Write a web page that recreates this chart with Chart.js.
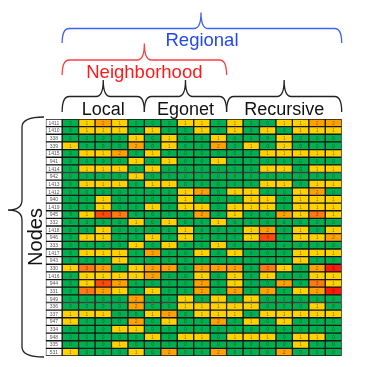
<!DOCTYPE html>
<html>
<head>
<meta charset="utf-8">
<script src="https://cdn.jsdelivr.net/npm/chart.js@4.4.1/dist/chart.umd.min.js"></script>
<style>
    html, body { margin: 0; padding: 0; background: #fff; }
    #chart { display: block; }
</style>
</head>
<body>
<canvas id="chart" width="370" height="367"></canvas>
<script>
// Node ids (rows, top to bottom)
var nodes = ['1411', '1410', '338', '339', '1415', '941', '1414', '942', '1413', '1412',
    '940', '1419', '945', '332', '1418', '946', '333', '1417', '943', '330', '1416',
    '944', '331', '949', '336', '337', '947', '334', '948', '335', '531'];

// Feature groups over the columns (name, number of columns)
var groupNames = ['Local', 'Egonet', 'Recursive'];
var groupSizes = [5, 5, 7];

// Feature counts per node (one row per node, 17 columns)
var counts = [
    [0, 1, 2, 1, 0, 0, 0, 1, 1, 0, 1, 0, 0, 1, 1, 2, 2],
    [0, 1, 1, 1, 0, 1, 0, 0, 1, 0, 1, 0, 1, 0, 1, 1, 1],
    [0, 0, 0, 0, 1, 0, 1, 0, 0, 1, 0, 0, 0, 1, 0, 0, 0],
    [1, 0, 0, 0, 2, 0, 1, 0, 0, 2, 0, 1, 0, 1, 0, 0, 0],
    [0, 1, 1, 2, 0, 1, 0, 0, 0, 0, 0, 0, 1, 1, 1, 1, 1],
    [0, 0, 0, 0, 1, 0, 1, 0, 0, 1, 0, 0, 0, 0, 0, 0, 0],
    [0, 1, 1, 1, 0, 1, 0, 0, 0, 0, 0, 0, 1, 1, 0, 1, 1],
    [0, 0, 0, 0, 1, 0, 0, 0, 0, 0, 0, 0, 0, 0, 0, 0, 0],
    [0, 1, 1, 1, 0, 1, 1, 0, 0, 0, 0, 0, 1, 1, 0, 1, 1],
    [0, 0, 0, 0, 0, 0, 0, 1, 2, 0, 1, 1, 0, 0, 1, 2, 0],
    [0, 0, 1, 0, 0, 0, 0, 1, 0, 0, 0, 1, 1, 0, 1, 1, 1],
    [0, 0, 1, 0, 0, 1, 0, 1, 1, 0, 1, 1, 1, 0, 1, 1, 1],
    [0, 1, 4, 3, 0, 0, 0, 0, 2, 0, 1, 0, 0, 2, 1, 3, 1],
    [0, 0, 0, 0, 1, 0, 1, 0, 0, 1, 0, 0, 0, 0, 0, 0, 0],
    [0, 0, 1, 0, 0, 0, 0, 1, 0, 0, 0, 1, 2, 0, 1, 0, 1],
    [0, 1, 1, 0, 0, 1, 0, 1, 0, 0, 0, 1, 4, 0, 1, 1, 2],
    [0, 0, 0, 0, 1, 0, 1, 0, 0, 1, 0, 0, 0, 0, 0, 0, 0],
    [0, 1, 1, 1, 0, 2, 0, 0, 1, 0, 1, 0, 0, 0, 1, 1, 1],
    [0, 0, 0, 1, 0, 0, 0, 0, 0, 0, 0, 0, 0, 0, 1, 0, 0],
    [1, 3, 2, 0, 1, 2, 2, 0, 2, 2, 2, 0, 3, 1, 0, 2, 5],
    [0, 1, 1, 1, 1, 2, 0, 0, 1, 0, 1, 0, 1, 0, 0, 1, 1],
    [0, 1, 4, 2, 0, 0, 0, 0, 2, 0, 1, 0, 0, 2, 0, 3, 1],
    [0, 3, 2, 1, 0, 1, 0, 0, 2, 0, 2, 0, 2, 0, 1, 2, 5],
    [0, 0, 0, 0, 2, 0, 0, 1, 0, 1, 0, 1, 0, 0, 0, 0, 0],
    [0, 0, 0, 0, 2, 0, 0, 1, 1, 1, 1, 1, 0, 0, 0, 1, 0],
    [1, 1, 1, 0, 0, 1, 2, 0, 1, 1, 1, 0, 1, 1, 1, 1, 1],
    [1, 0, 0, 0, 2, 0, 1, 0, 0, 2, 0, 1, 0, 1, 0, 0, 0],
    [0, 0, 0, 1, 1, 0, 0, 0, 0, 0, 0, 0, 0, 0, 0, 0, 0],
    [0, 0, 0, 0, 0, 1, 0, 1, 1, 0, 1, 1, 1, 0, 1, 1, 0],
    [0, 0, 0, 1, 0, 0, 0, 0, 0, 0, 0, 0, 0, 0, 1, 0, 0],
    [1, 0, 0, 0, 1, 0, 2, 0, 0, 2, 0, 0, 0, 2, 0, 0, 0]
];

// Colour for each count value 0..5
var countColors = ['#00b050', '#ffd200', '#ffa200', '#ff7a10', '#ff4b0a', '#ff1a0a'];

var FONT = '"Liberation Sans", Arial, sans-serif';
var numCols = groupSizes.reduce(function(a, b) { return a + b; }, 0);

/**
 * Build one floating-bar dataset per column, all overlapping on each row
 */
function buildDatasets() {
    var sets = [];

    // label column (white cells that hold the node id)
    sets.push({
        label: 'node',
        data: nodes.map(function() { return [-1, 0]; }),
        backgroundColor: '#ffffff',
        isLabelColumn: true
    });

    for (var c = 0; c < numCols; c++) {
        (function(col) {
            sets.push({
                label: 'f' + col,
                data: nodes.map(function() { return [col, col + 1]; }),
                backgroundColor: function(ctx) {
                    var v = counts[ctx.dataIndex][col];
                    return countColors[Math.min(v, countColors.length - 1)];
                },
                column: col
            });
        })(c);
    }

    sets.forEach(function(s) {
        s.borderColor = '#151515';
        s.borderWidth = 1;
        s.borderSkipped = false;
        s.grouped = false;
        s.categoryPercentage = 1;
        s.barPercentage = 1;
    });
    return sets;
}

/**
 * Draw a horizontal curly brace pointing up
 */
function hBrace(ctx, x1, x2, xm, yLine, yEnd, yTip, color) {
    var r = 7;
    ctx.save();
    ctx.strokeStyle = color;
    ctx.lineWidth = 1.3;
    ctx.beginPath();
    ctx.moveTo(x1, yEnd);
    ctx.quadraticCurveTo(x1, yLine, x1 + r, yLine);
    ctx.lineTo(xm - r, yLine);
    ctx.quadraticCurveTo(xm, yLine, xm, yTip);
    ctx.quadraticCurveTo(xm, yLine, xm + r, yLine);
    ctx.lineTo(x2 - r, yLine);
    ctx.quadraticCurveTo(x2, yLine, x2, yEnd);
    ctx.stroke();
    ctx.restore();
}

/**
 * Draw a vertical curly brace pointing left
 */
function vBrace(ctx, xLine, xEnd, xTip, y1, y2, ym, color) {
    var r = 10;
    ctx.save();
    ctx.strokeStyle = color;
    ctx.lineWidth = 1.3;
    ctx.beginPath();
    ctx.moveTo(xEnd, y1);
    ctx.quadraticCurveTo(xLine, y1, xLine, y1 + r);
    ctx.lineTo(xLine, ym - r);
    ctx.quadraticCurveTo(xLine, ym, xTip, ym);
    ctx.quadraticCurveTo(xLine, ym, xLine, ym + r);
    ctx.lineTo(xLine, y2 - r);
    ctx.quadraticCurveTo(xLine, y2, xEnd, y2);
    ctx.stroke();
    ctx.restore();
}

// Writes the counts and node ids inside the cells
var cellTextPlugin = {
    id: 'cellText',
    afterDatasetsDraw: function(chart) {
        var ctx = chart.ctx;
        ctx.save();
        ctx.textAlign = 'center';
        ctx.textBaseline = 'middle';
        chart.data.datasets.forEach(function(ds, i) {
            var meta = chart.getDatasetMeta(i);
            meta.data.forEach(function(el, j) {
                var p = el.getCenterPoint();
                if (ds.isLabelColumn) {
                    ctx.font = '5px ' + FONT;
                    ctx.fillStyle = '#555';
                    ctx.fillText(nodes[j], p.x, p.y + 0.5);
                } else {
                    ctx.font = '5px ' + FONT;
                    ctx.fillStyle = 'rgba(0,0,0,0.45)';
                    ctx.fillText(String(counts[j][ds.column]), p.x, p.y + 0.5);
                }
            });
        });
        ctx.restore();
    }
};

// Braces and headings around the grid
var annotationPlugin = {
    id: 'annotations',
    afterDraw: function(chart) {
        var ctx = chart.ctx;
        var xs = chart.scales.x;
        var ys = chart.scales.y;
        var left = xs.getPixelForValue(0);
        var right = xs.getPixelForValue(numCols);

        // column group braces (Local / Egonet / Recursive)
        var start = 0;
        var bounds = [];
        for (var g = 0; g < groupNames.length; g++) {
            var a = xs.getPixelForValue(start);
            var b = xs.getPixelForValue(start + groupSizes[g]);
            bounds.push([a, b]);
            hBrace(ctx, a, b, (a + b) / 2, 96.5, 112, 80, '#222');
            ctx.save();
            ctx.font = '18px ' + FONT;
            ctx.fillStyle = '#111';
            ctx.textAlign = 'center';
            ctx.textBaseline = 'alphabetic';
            ctx.fillText(groupNames[g], (a + b) / 2, 115);
            ctx.restore();
            start += groupSizes[g];
        }

        // Neighborhood = Local + Egonet
        var nb = bounds[1][1];
        hBrace(ctx, left, nb, (left + nb) / 2, 60, 75, 43.5, '#ff4040');
        ctx.save();
        ctx.font = '18.5px ' + FONT;
        ctx.fillStyle = '#ff1a1a';
        ctx.textAlign = 'center';
        ctx.fillText('Neighborhood', (left + nb) / 2, 77.5);

        // Regional = everything
        hBrace(ctx, left, right, 201, 28.5, 43, 12.5, '#3d63f2');
        ctx.fillStyle = '#2448f0';
        ctx.fillText('Regional', 202, 46);
        ctx.restore();

        // Nodes brace on the left
        var top = ys.getPixelForValue(0) - (ys.getPixelForValue(1) - ys.getPixelForValue(0)) / 2;
        var bottom = chart.chartArea.bottom;
        vBrace(ctx, 22, 44, 8, top - 2, bottom + 1, 210, '#222');

        ctx.save();
        ctx.translate(36, 237);
        ctx.rotate(-Math.PI / 2);
        ctx.font = '20px ' + FONT;
        ctx.fillStyle = '#111';
        ctx.textAlign = 'center';
        ctx.textBaseline = 'middle';
        ctx.fillText('Nodes', 0, 0);
        ctx.restore();
    }
};

new Chart(document.getElementById('chart'), {
    type: 'bar',
    data: {
        labels: nodes,
        datasets: buildDatasets()
    },
    options: {
        indexAxis: 'y',
        responsive: false,
        animation: false,
        events: [],
        layout: {
            padding: { left: 45.7, right: 28.3, top: 119, bottom: 11 }
        },
        plugins: {
            legend: { display: false },
            tooltip: { enabled: false }
        },
        scales: {
            x: { type: 'linear', min: -1, max: numCols, display: false },
            y: { type: 'category', display: false, grid: { display: false } }
        }
    },
    plugins: [cellTextPlugin, annotationPlugin]
});
</script>
</body>
</html>
